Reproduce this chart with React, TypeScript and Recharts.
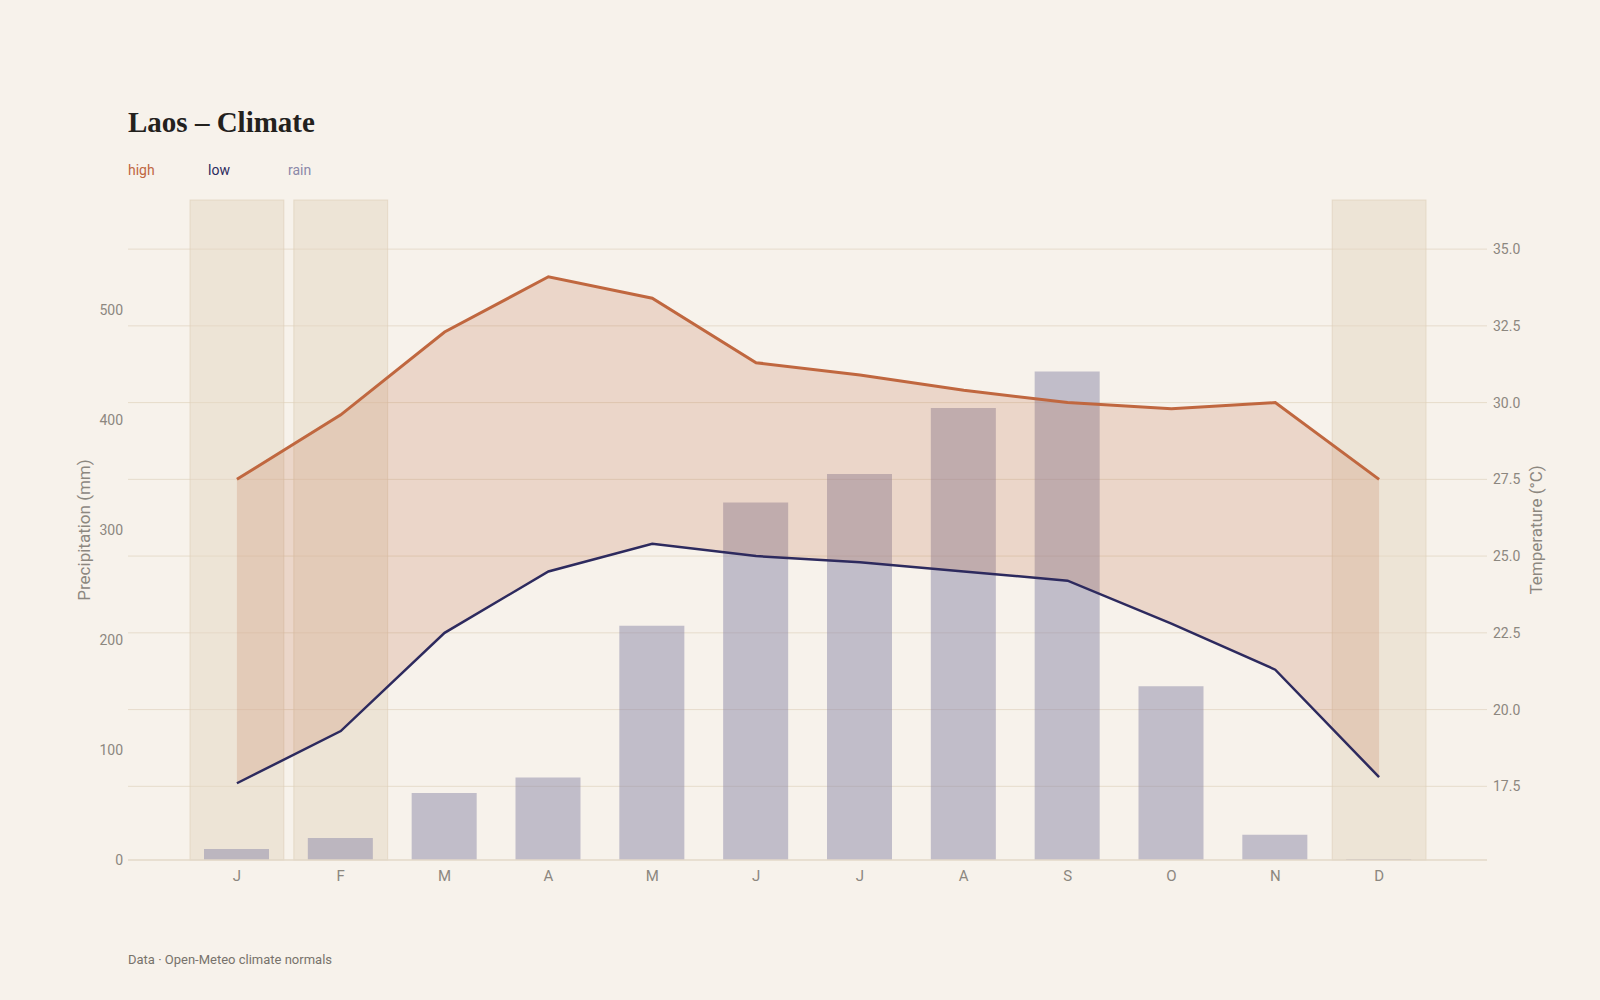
import React from 'react';
import {
  ComposedChart,
  Bar,
  Line,
  Area,
  XAxis,
  YAxis,
  CartesianGrid,
  ReferenceArea,
} from 'recharts';

const months = ['Jan', 'Feb', 'Mar', 'Apr', 'May', 'Jun', 'Jul', 'Aug', 'Sep', 'Oct', 'Nov', 'Dec'];
const highTemp = [27.5, 29.6, 32.3, 34.1, 33.4, 31.3, 30.9, 30.4, 30.0, 29.8, 30.0, 27.5];
const lowTemp = [17.6, 19.3, 22.5, 24.5, 25.4, 25.0, 24.8, 24.5, 24.2, 22.8, 21.3, 17.8];
const rain = [10, 20, 61, 75, 213, 325, 351, 411, 444, 158, 23, 1];
const dryMonths = ['Jan', 'Feb', 'Dec'];
const rainTicks = [0, 100, 200, 300, 400, 500];
const tempTicks = [17.5, 20, 22.5, 25, 27.5, 30, 32.5, 35];

const data = months.map((m, i) => ({
  month: m,
  high: highTemp[i],
  low: lowTemp[i],
  range: [lowTemp[i], highTemp[i]],
  rain: rain[i],
}));

const tempDomain = [Math.min(...lowTemp) - 2.5, Math.max(...highTemp) + 2.5];

const BG = '#f7f2eb';
const HIGH = '#c0673f';
const LOW = '#2d2a5e';
const RAIN = '#8b88a8';
const MUTED = '#8c877f';
const SANS = 'Roboto, "Noto Sans", sans-serif';

const tickStyle = { fill: MUTED, fontSize: 14, fontFamily: SANS };
const xTickStyle = { fill: MUTED, fontSize: 15, fontFamily: SANS };

const bandShape = (p: any) => (
  <rect
    x={p.x + 5}
    y={p.y}
    width={p.width - 10}
    height={p.height}
    fill="#e3d6c1"
    fillOpacity={0.5}
    stroke="#ddcfb8"
    strokeOpacity={0.6}
    strokeWidth={1}
  />
);

const gridGenerator = (props: any) => {
  const yAxis = props?.yAxis;
  const scale = yAxis?.scale;
  if (!scale) return [];
  const fn = typeof scale === 'function' ? scale : (v: number) => scale.map(v);
  return tempTicks.map((t) => fn(t));
};

export default function App() {
  return (
    <div
      style={{
        position: 'absolute',
        left: 0,
        top: 0,
        width: 1600,
        height: 1000,
        background: BG,
        overflow: 'hidden',
      }}
    >
      <div
        style={{
          position: 'absolute',
          left: 128,
          top: 104,
          fontFamily: '"Liberation Serif", "DejaVu Serif", serif',
          fontWeight: 700,
          fontSize: 29,
          color: '#23211d',
          lineHeight: '36px',
          whiteSpace: 'nowrap',
        }}
      >
        Laos – Climate
      </div>
      <div
        style={{
          position: 'absolute',
          left: 128,
          top: 160,
          fontFamily: SANS,
          fontSize: 14,
          lineHeight: '20px',
          whiteSpace: 'nowrap',
        }}
      >
        <span style={{ position: 'absolute', left: 0, color: HIGH }}>high</span>
        <span style={{ position: 'absolute', left: 80, color: LOW }}>low</span>
        <span style={{ position: 'absolute', left: 160, color: RAIN }}>rain</span>
      </div>
      <div style={{ position: 'absolute', left: 0, top: 0 }}>
        <ComposedChart
          width={1600}
          height={1000}
          data={data}
          margin={{ top: 200, right: 15, bottom: 110, left: 40 }}
        >
          {dryMonths.map((m) => (
            <ReferenceArea
              key={m}
              x1={m}
              x2={m}
              yAxisId="rain"
              shape={bandShape}
              ifOverflow="visible"
            />
          ))}
          <CartesianGrid
            yAxisId="temp"
            vertical={false}
            stroke="#e6dccb"
            strokeWidth={1}
            horizontalCoordinatesGenerator={gridGenerator}
          />
          <XAxis
            dataKey="month"
            padding={{ left: 57, right: 56 }}
            tickFormatter={(m: string) => m.charAt(0)}
            tickLine={false}
            tickSize={0}
            tickMargin={10}
            axisLine={{ stroke: '#e3d9c8', strokeWidth: 1.5 }}
            tick={xTickStyle}
            height={30}
            interval={0}
          />
          <YAxis
            yAxisId="rain"
            orientation="left"
            domain={[0, 600]}
            ticks={rainTicks}
            width={88}
            tickLine={false}
            axisLine={false}
            tickSize={0}
            tickMargin={5}
            tick={tickStyle}
            label={{
              value: 'Precipitation (mm)',
              angle: -90,
              position: 'center',
              fill: MUTED,
              fontSize: 17,
              fontFamily: SANS,
            }}
          />
          <YAxis
            yAxisId="temp"
            orientation="right"
            domain={tempDomain}
            ticks={tempTicks}
            allowDataOverflow
            width={98}
            tickLine={false}
            axisLine={false}
            tickSize={0}
            tickMargin={6}
            tick={tickStyle}
            tickFormatter={(v: number) => v.toFixed(1)}
            label={{
              value: 'Temperature (°C)',
              angle: -90,
              position: 'center',
              fill: MUTED,
              fontSize: 17,
              fontFamily: SANS,
            }}
          />
          <Bar
            yAxisId="rain"
            dataKey="rain"
            fill={RAIN}
            fillOpacity={0.5}
            barSize={65}
            isAnimationActive={false}
          />
          <Area
            yAxisId="temp"
            type="linear"
            dataKey="range"
            fill={HIGH}
            fillOpacity={0.2}
            stroke="none"
            isAnimationActive={false}
            activeDot={false}
            zIndex={350}
          />
          <Line
            yAxisId="temp"
            type="linear"
            dataKey="high"
            stroke={HIGH}
            strokeWidth={3}
            dot={false}
            activeDot={false}
            isAnimationActive={false}
          />
          <Line
            yAxisId="temp"
            type="linear"
            dataKey="low"
            stroke={LOW}
            strokeWidth={2.5}
            dot={false}
            activeDot={false}
            isAnimationActive={false}
          />
        </ComposedChart>
      </div>
      <div
        style={{
          position: 'absolute',
          left: 128,
          top: 951,
          fontFamily: SANS,
          fontSize: 13,
          lineHeight: '18px',
          color: '#77726b',
          whiteSpace: 'nowrap',
        }}
      >
        Data · Open-Meteo climate normals
      </div>
    </div>
  );
}
